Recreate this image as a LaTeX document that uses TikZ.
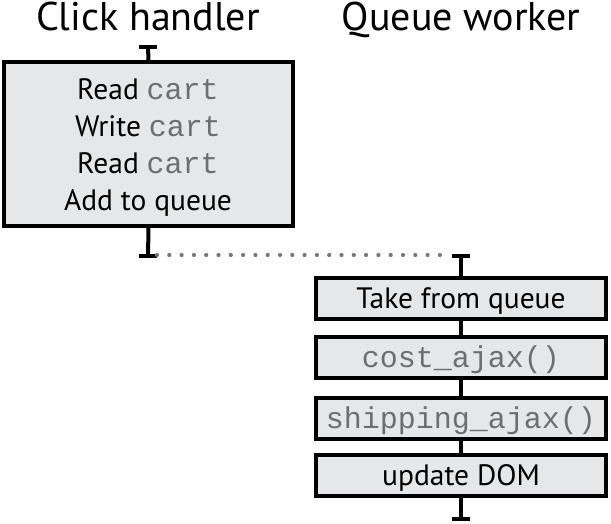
\documentclass[tikz,border=0pt]{standalone}
\usepackage{fontspec}
\setmainfont{PT Sans}
\setmonofont{Liberation Mono}
\definecolor{boxgray}{HTML}{E6E7E8}
\definecolor{codegray}{HTML}{6D6E71}
\definecolor{dotgray}{HTML}{77787B}
\newcommand{\codetxt}[1]{{\fontsize{30}{30}\selectfont\ttfamily\color{codegray}#1}}
\begin{document}
\begin{tikzpicture}[x=1pt,y=-1pt,
  stepbox/.style={draw=black, line width=4pt, fill=boxgray, inner sep=0pt},
  title/.style={font=\fontsize{40}{44}\selectfont, anchor=base},
  lbl/.style={font=\fontsize{29.5}{32}\selectfont, anchor=base, inner sep=0pt},
  conn/.style={draw=black, line width=4pt},
  tbar/.style={draw=black, line width=4pt},
  dotline/.style={draw=dotgray, line width=4.2pt, line cap=round, dash pattern=on 0pt off 12.3pt}]
\useasboundingbox (0,0) rectangle (611,523);
% titles
\node[title] (t1) at (148,30) {Click handler};
\node[title] (t2) at (461,30) {Queue worker};
% left box
\node[stepbox, minimum width=289pt, minimum height=164pt] (click) at (148.5,144) {};
\node[lbl] (l1) at (148,99) {Read \codetxt{cart}};
\node[lbl] (l2) at (148,136) {Write \codetxt{cart}};
\node[lbl] (l3) at (148,173) {Read \codetxt{cart}};
\node[lbl] (l4) at (148,210) {Add to queue};
% right boxes
\tikzset{rbox/.style={stepbox, minimum width=290pt, minimum height=41pt}}
\node[rbox] (b1) at (461,298.5) {};
\node[rbox] (b2) at (461,357.5) {};
\node[rbox] (b3) at (461,418.5) {};
\node[rbox] (b4) at (461,475.5) {};
\node[lbl] at (461,308) {Take from queue};
\node[lbl] at (461,367) {\codetxt{cost\_ajax()}};
\node[lbl] at (461,428) {\codetxt{shipping\_ajax()}};
\node[lbl] at (461,485) {update DOM};
% T-bar endpoints
\coordinate (ltop) at (148,47);
\coordinate (lbot) at (148,256);
\coordinate (rtop) at (461,256);
\coordinate (rbot) at (461,519);
% connectors
\draw[conn] (ltop) -- (click.north);
\draw[conn] (click.south) -- (lbot);
\draw[conn] (rtop) -- (b1.north);
\draw[conn] (b1.south) -- (b2.north);
\draw[conn] (b2.south) -- (b3.north);
\draw[conn] (b3.south) -- (b4.north);
\draw[conn] (b4.south) -- (rbot);
% bars
\draw[tbar] ([xshift=-9pt]ltop) -- ([xshift=9pt]ltop);
\draw[tbar] ([xshift=-9pt]lbot) -- ([xshift=9pt]lbot);
\draw[tbar] ([xshift=-9pt]rtop) -- ([xshift=9pt]rtop);
\draw[tbar] ([xshift=-9pt]rbot) -- ([xshift=9pt]rbot);
% dotted hand-off
\draw[dotline] ([xshift=9pt,yshift=1pt]lbot) -- ([xshift=-9pt,yshift=1pt]rtop);
\end{tikzpicture}
\end{document}
